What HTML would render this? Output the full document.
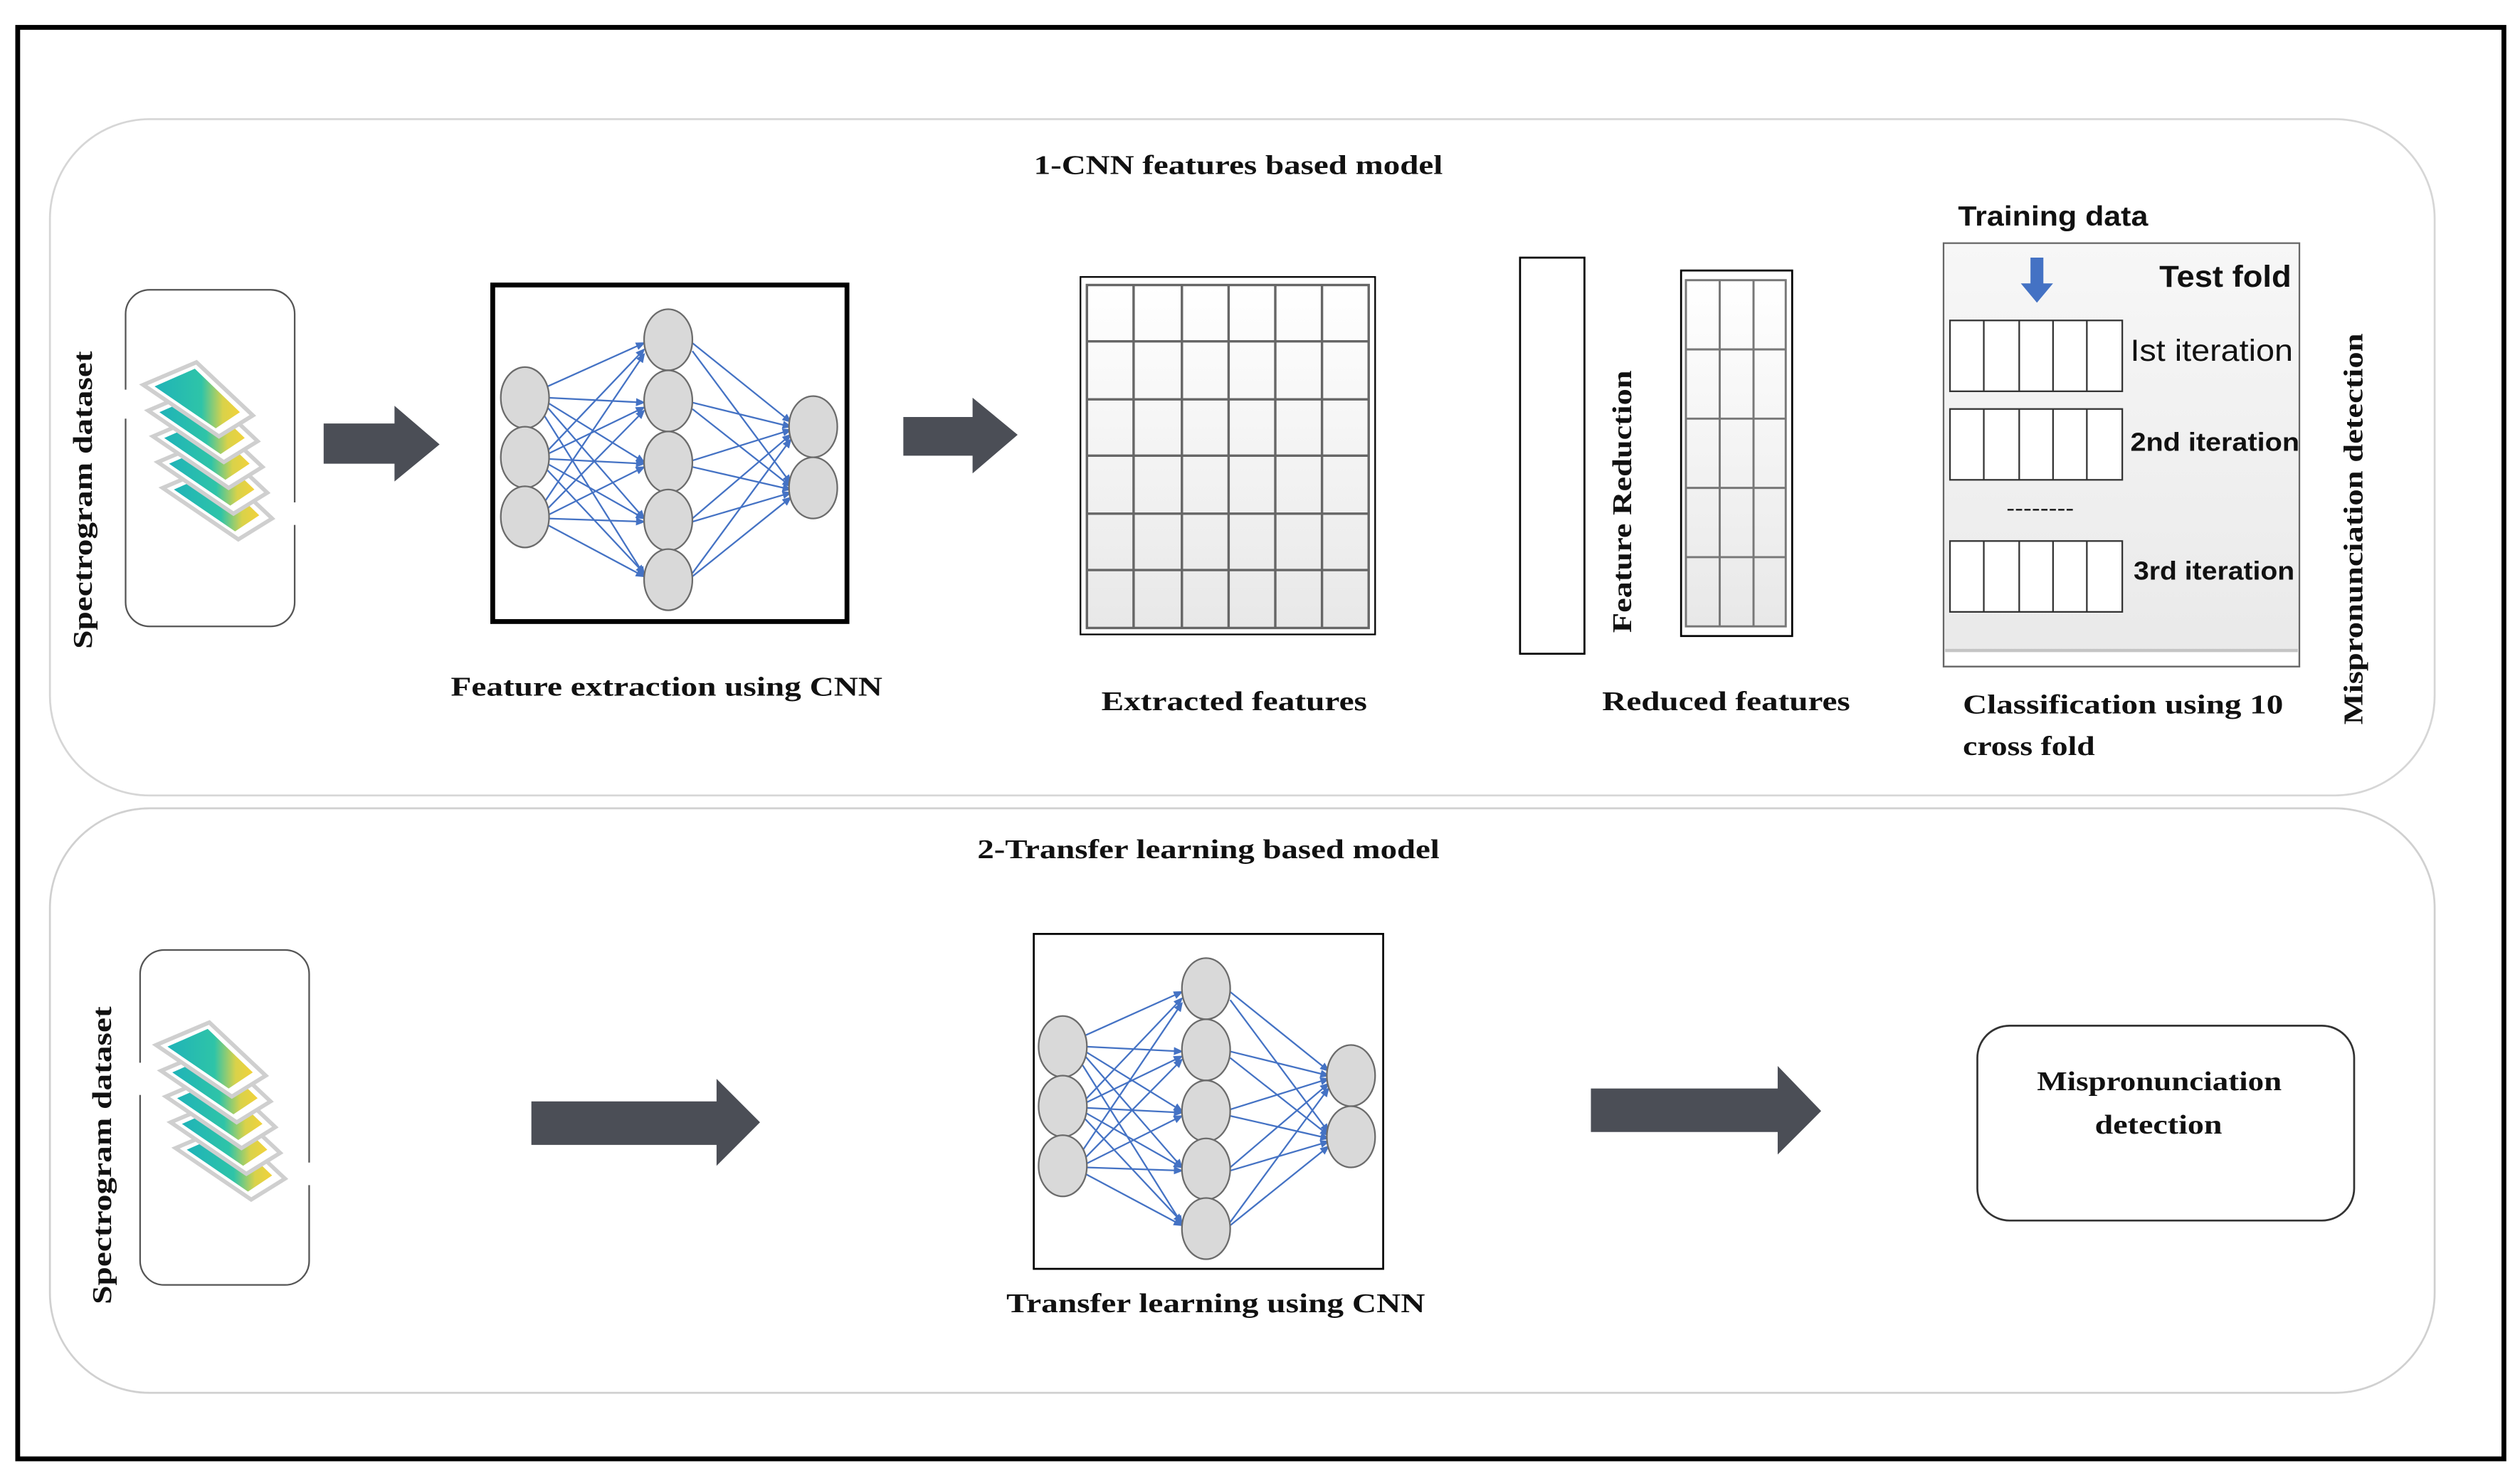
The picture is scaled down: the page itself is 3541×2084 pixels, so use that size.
<!DOCTYPE html>
<html><head><meta charset="utf-8"><style>
html,body{margin:0;padding:0;background:#fff;}
svg{display:block;}
.s{font-family:"Liberation Serif",serif;font-weight:bold;fill:#111;}
.a{font-family:"Liberation Sans",sans-serif;fill:#111;}
</style></head><body>
<svg width="3541" height="2084" viewBox="0 0 1565 921" preserveAspectRatio="none" xmlns="http://www.w3.org/2000/svg">
<defs>
<linearGradient id="spec" x1="0" y1="0" x2="1" y2="0">
<stop offset="0" stop-color="#1fb3b8"/><stop offset="0.55" stop-color="#2ec4a8"/><stop offset="0.8" stop-color="#d9d24a"/><stop offset="1" stop-color="#f2d23a"/></linearGradient>
<linearGradient id="cell" x1="0" y1="0" x2="0" y2="1"><stop offset="0" stop-color="#ffffff"/><stop offset="1" stop-color="#e8e8e8"/></linearGradient>
<linearGradient id="cls" x1="0" y1="0" x2="0" y2="1"><stop offset="0" stop-color="#f7f7f7"/><stop offset="1" stop-color="#e9e9e9"/></linearGradient>
<marker id="ah" markerWidth="6" markerHeight="6" refX="5" refY="3" orient="auto" markerUnits="userSpaceOnUse"><path d="M0,0.5 L6,3 L0,5.5 z" fill="#4472c4"/></marker>
<g id="stack">
<g id="card"><polygon points="89,239 122,225 157,258 136,271" fill="#fff" stroke="#cfcfcf" stroke-width="2.5"/><polygon points="96,240 121,229 149,256 134,266" fill="url(#spec)"/></g>
<use href="#card" transform="translate(12,64)"/>
<use href="#card" transform="translate(9,48)"/>
<use href="#card" transform="translate(6,32)"/>
<use href="#card" transform="translate(3,16)"/>
<use href="#card"/>
</g>
<g id="net">
<g stroke="#4472c4" stroke-width="1" fill="none" marker-end="url(#ah)">
<line x1="340" y1="240" x2="400" y2="213"/><line x1="340" y1="247" x2="400" y2="250"/><line x1="340" y1="250" x2="400" y2="287"/><line x1="340" y1="253" x2="400" y2="322"/><line x1="338" y1="258" x2="400" y2="357"/>
<line x1="340" y1="280" x2="400" y2="217"/><line x1="340" y1="282" x2="400" y2="253"/><line x1="340" y1="285" x2="400" y2="288"/><line x1="340" y1="288" x2="400" y2="322"/><line x1="340" y1="292" x2="400" y2="356"/>
<line x1="338" y1="312" x2="400" y2="220"/><line x1="340" y1="316" x2="400" y2="255"/><line x1="340" y1="320" x2="400" y2="290"/><line x1="340" y1="322" x2="400" y2="324"/><line x1="340" y1="326" x2="400" y2="358"/>
<line x1="430" y1="213" x2="491" y2="262"/><line x1="430" y1="218" x2="491" y2="300"/><line x1="430" y1="250" x2="491" y2="265"/><line x1="430" y1="254" x2="491" y2="302"/><line x1="430" y1="286" x2="491" y2="267"/><line x1="430" y1="290" x2="491" y2="304"/><line x1="430" y1="322" x2="491" y2="270"/><line x1="430" y1="324" x2="491" y2="306"/><line x1="430" y1="356" x2="491" y2="273"/><line x1="430" y1="358" x2="491" y2="309"/>
</g>
<g fill="#d9d9d9" stroke="#6b6b6b" stroke-width="1">
<ellipse cx="326" cy="247" rx="15" ry="19"/><ellipse cx="326" cy="284" rx="15" ry="19"/><ellipse cx="326" cy="321" rx="15" ry="19"/>
<ellipse cx="415" cy="211" rx="15" ry="19"/><ellipse cx="415" cy="249" rx="15" ry="19"/><ellipse cx="415" cy="287" rx="15" ry="19"/><ellipse cx="415" cy="323" rx="15" ry="19"/><ellipse cx="415" cy="360" rx="15" ry="19"/>
<ellipse cx="505" cy="265" rx="15" ry="19"/><ellipse cx="505" cy="303" rx="15" ry="19"/>
</g>
</g>
</defs>
<rect width="1565" height="921" fill="#fff"/>
<rect x="11" y="17" width="1544" height="889" fill="none" stroke="#000" stroke-width="3"/>
<rect x="31" y="74" width="1481" height="420" rx="62" fill="none" stroke="#d6d6d6" stroke-width="1.2"/>
<rect x="31" y="502" width="1481" height="363" rx="62" fill="none" stroke="#d0d0d0" stroke-width="1.2"/>

<!-- Panel 1 -->
<text class="s" x="642" y="108" font-size="17" textLength="254" lengthAdjust="spacingAndGlyphs">1-CNN features based model</text>
<rect x="78" y="180" width="105" height="209" rx="15" fill="none" stroke="#555" stroke-width="1"/>
<rect x="74" y="242" width="8" height="18" fill="#fff"/><rect x="179" y="312" width="8" height="14" fill="#fff"/>
<use href="#stack"/>
<text class="s" transform="translate(57,403) rotate(-90)" font-size="17" textLength="185" lengthAdjust="spacingAndGlyphs">Spectrogram dataset</text>
<polygon points="201,263 245,263 245,252 273,276 245,299 245,288 201,288" fill="#4b4e56"/>
<rect x="306" y="177" width="220" height="209" fill="none" stroke="#000" stroke-width="3"/>
<use href="#net"/>
<text class="s" x="280" y="432" font-size="17" textLength="268" lengthAdjust="spacingAndGlyphs">Feature extraction using CNN</text>
<polygon points="561,259 604,259 604,247 632,270 604,294 604,283 561,283" fill="#4b4e56"/>
<rect x="671" y="172" width="183" height="222" fill="#fff" stroke="#000" stroke-width="1"/>
<rect x="675" y="177" width="175" height="213" fill="url(#cell)" stroke="#666" stroke-width="1.5"/>
<g stroke="#666" stroke-width="1.5">
<line x1="704" y1="177" x2="704" y2="390"/><line x1="734" y1="177" x2="734" y2="390"/><line x1="763" y1="177" x2="763" y2="390"/><line x1="792" y1="177" x2="792" y2="390"/><line x1="821" y1="177" x2="821" y2="390"/>
<line x1="675" y1="212" x2="850" y2="212"/><line x1="675" y1="248" x2="850" y2="248"/><line x1="675" y1="283" x2="850" y2="283"/><line x1="675" y1="319" x2="850" y2="319"/><line x1="675" y1="354" x2="850" y2="354"/>
</g>
<text class="s" x="684" y="441" font-size="17" textLength="165" lengthAdjust="spacingAndGlyphs">Extracted features</text>
<rect x="944" y="160" width="40" height="246" fill="#fff" stroke="#000" stroke-width="1.2"/>
<text class="s" transform="translate(1013,393) rotate(-90)" font-size="17" textLength="163" lengthAdjust="spacingAndGlyphs">Feature Reduction</text>
<rect x="1044" y="168" width="69" height="227" fill="#fff" stroke="#000" stroke-width="1.2"/>
<rect x="1047" y="174" width="62" height="215" fill="url(#cell)" stroke="#777" stroke-width="1.3"/>
<g stroke="#777" stroke-width="1.3">
<line x1="1068" y1="174" x2="1068" y2="389"/><line x1="1089" y1="174" x2="1089" y2="389"/>
<line x1="1047" y1="217" x2="1109" y2="217"/><line x1="1047" y1="260" x2="1109" y2="260"/><line x1="1047" y1="303" x2="1109" y2="303"/><line x1="1047" y1="346" x2="1109" y2="346"/>
</g>
<text class="s" x="995" y="441" font-size="17" textLength="154" lengthAdjust="spacingAndGlyphs">Reduced features</text>
<text class="a" x="1216" y="140" font-size="17" font-weight="bold" textLength="118" lengthAdjust="spacingAndGlyphs">Training data</text>
<rect x="1207" y="151" width="221" height="263" fill="url(#cls)" stroke="#666" stroke-width="1"/>
<rect x="1208" y="404" width="219" height="9" fill="#fff"/>
<line x1="1208" y1="404" x2="1427" y2="404" stroke="#c4c4c4" stroke-width="2"/>
<polygon points="1261,160 1269,160 1269,176 1275,176 1265,188 1255,176 1261,176" fill="#4472c4"/>
<text class="a" x="1341" y="178" font-size="19" font-weight="bold" textLength="82" lengthAdjust="spacingAndGlyphs">Test fold</text>
<g fill="#fff" stroke="#333" stroke-width="1">
<rect x="1211" y="199" width="107" height="44"/><rect x="1211" y="254" width="107" height="44"/><rect x="1211" y="336" width="107" height="44"/>
</g>
<g stroke="#333" stroke-width="1">
<line x1="1232" y1="199" x2="1232" y2="243"/><line x1="1254" y1="199" x2="1254" y2="243"/><line x1="1275" y1="199" x2="1275" y2="243"/><line x1="1296" y1="199" x2="1296" y2="243"/>
<line x1="1232" y1="254" x2="1232" y2="298"/><line x1="1254" y1="254" x2="1254" y2="298"/><line x1="1275" y1="254" x2="1275" y2="298"/><line x1="1296" y1="254" x2="1296" y2="298"/>
<line x1="1232" y1="336" x2="1232" y2="380"/><line x1="1254" y1="336" x2="1254" y2="380"/><line x1="1275" y1="336" x2="1275" y2="380"/><line x1="1296" y1="336" x2="1296" y2="380"/>
</g>
<text class="a" x="1323" y="224" font-size="19" textLength="101" lengthAdjust="spacingAndGlyphs">Ist iteration</text>
<text class="a" x="1323" y="280" font-size="16" font-weight="bold" textLength="105" lengthAdjust="spacingAndGlyphs">2nd iteration</text>
<text class="a" x="1246" y="320" font-size="13" textLength="42" lengthAdjust="spacingAndGlyphs">--------</text>
<text class="a" x="1325" y="360" font-size="16" font-weight="bold" textLength="100" lengthAdjust="spacingAndGlyphs">3rd iteration</text>
<text class="s" x="1219" y="443" font-size="17" textLength="199" lengthAdjust="spacingAndGlyphs">Classification using 10</text>
<text class="s" x="1219" y="469" font-size="17" textLength="82" lengthAdjust="spacingAndGlyphs">cross fold</text>
<text class="s" transform="translate(1467,450) rotate(-90)" font-size="17" textLength="243" lengthAdjust="spacingAndGlyphs">Mispronunciation detection</text>

<!-- Panel 2 -->
<text class="s" x="607" y="533" font-size="17" textLength="287" lengthAdjust="spacingAndGlyphs">2-Transfer learning based model</text>
<rect x="87" y="590" width="105" height="208" rx="15" fill="none" stroke="#555" stroke-width="1"/>
<rect x="83" y="660" width="8" height="20" fill="#fff"/><rect x="188" y="722" width="8" height="14" fill="#fff"/>
<use href="#stack" transform="translate(8,410)"/>
<text class="s" transform="translate(69,810) rotate(-90)" font-size="17" textLength="185" lengthAdjust="spacingAndGlyphs">Spectrogram dataset</text>
<polygon points="330,684 445,684 445,670 472,697 445,724 445,711 330,711" fill="#4b4e56"/>
<rect x="642" y="580" width="217" height="208" fill="none" stroke="#000" stroke-width="1.2"/>
<use href="#net" transform="translate(334,403)"/>
<text class="s" x="625" y="815" font-size="17" textLength="260" lengthAdjust="spacingAndGlyphs">Transfer learning using CNN</text>
<polygon points="988,676 1104,676 1104,662 1131,690 1104,717 1104,703 988,703" fill="#4b4e56"/>
<rect x="1228" y="637" width="234" height="121" rx="20" fill="#fff" stroke="#333" stroke-width="1.2"/>
<text class="s" x="1265" y="677" font-size="17" textLength="152" lengthAdjust="spacingAndGlyphs">Mispronunciation</text>
<text class="s" x="1301" y="704" font-size="17" textLength="79" lengthAdjust="spacingAndGlyphs">detection</text>
</svg>
</body></html>
